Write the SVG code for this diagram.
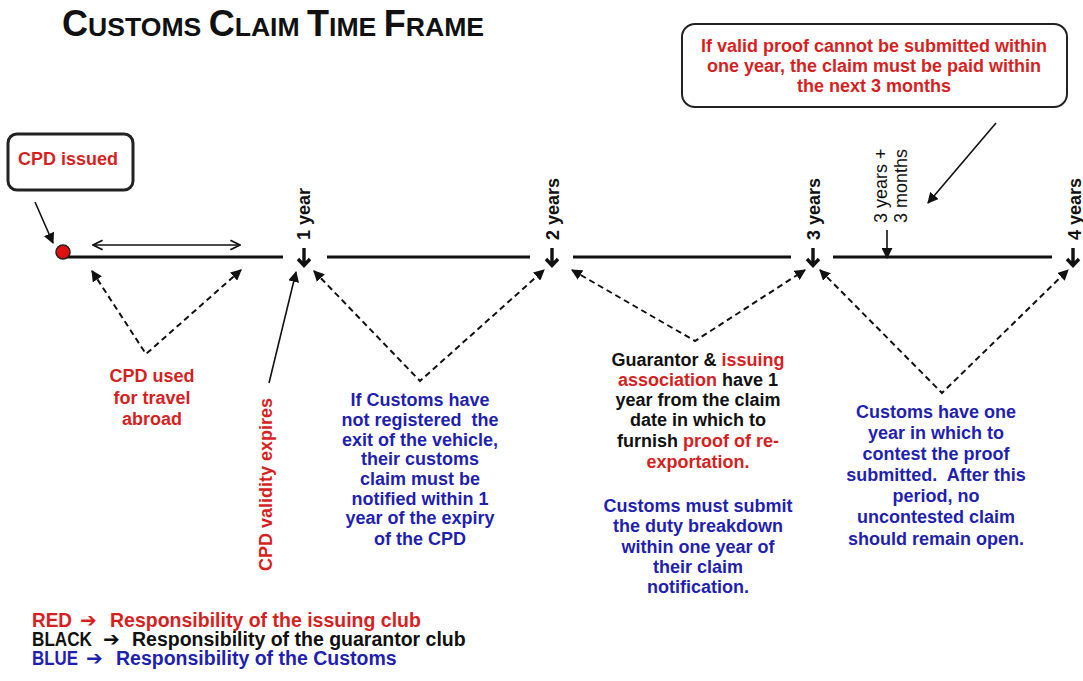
<svg xmlns="http://www.w3.org/2000/svg" width="1083" height="681" viewBox="0 0 1083 681">
  <style>
    .b { font-family: "Liberation Sans", Arial, sans-serif; font-weight: bold; font-size: 18px; }
    .r { font-family: "Liberation Sans", Arial, sans-serif; font-weight: normal; font-size: 18px; }
    .red { fill: #d81f1f; }
    .blue { fill: #1f1fb2; }
    .blk { fill: #111111; }
    .mid { text-anchor: middle; }
    .tl { stroke: #111; stroke-width: 3; fill: none; }
    .dn { stroke: #111; stroke-width: 3.4; fill: none; stroke-linejoin: miter; }
    .dash { stroke: #111; stroke-width: 2; fill: none; stroke-dasharray: 6 4; marker-start: url(#ah); marker-end: url(#ah); }
    .solid { stroke: #111; stroke-width: 1.6; fill: none; marker-end: url(#ah); }
    .box { fill: #fff; stroke: #222; }
    .lg { font-family: "Liberation Sans", Arial, sans-serif; font-weight: bold; font-size: 19.5px; }
    .arr { font-family: "DejaVu Sans", sans-serif; font-weight: bold; font-size: 20px; }
  </style>
  <defs>
    <marker id="ah" viewBox="0 0 10 10" refX="9" refY="5" markerWidth="11" markerHeight="11" markerUnits="userSpaceOnUse" orient="auto-start-reverse">
      <path d="M0,0 L10,5 L0,10 Z" fill="#111" stroke="none"/>
    </marker>
    <marker id="oh" viewBox="0 0 10 10" refX="9" refY="5" markerWidth="12" markerHeight="12" markerUnits="userSpaceOnUse" orient="auto-start-reverse">
      <path d="M1,1 L9,5 L1,9" fill="none" stroke="#111" stroke-width="1.5"/>
    </marker>
  </defs>

  <rect width="1083" height="681" fill="#ffffff"/>

  <g id="title">
    <text x="62" y="36" class="b blk"><tspan font-size="36">C</tspan><tspan font-size="26.6">USTOMS </tspan><tspan font-size="36">C</tspan><tspan font-size="26.6">LAIM </tspan><tspan font-size="36">T</tspan><tspan font-size="26.6">IME </tspan><tspan font-size="36">F</tspan><tspan font-size="26.6">RAME</tspan></text>
  </g>

  <g id="timeline">
    <line x1="63" y1="257" x2="283" y2="257" class="tl"/>
    <line x1="327" y1="257" x2="530" y2="257" class="tl"/>
    <line x1="573" y1="257" x2="791" y2="257" class="tl"/>
    <line x1="833" y1="257" x2="1052" y2="257" class="tl"/>
  </g>

  <g id="marker-1year">
    <path class="dn" d="M304,248 V265 M298,259 L304,265.5 L310,259"/>
    <text class="b blk" font-size="17" transform="translate(310,240) rotate(-90)">1 year</text>
  </g>
  <g id="marker-2years">
    <path class="dn" d="M552,248 V265 M546,259 L552,265.5 L558,259"/>
    <text class="b blk" font-size="17" transform="translate(559,240) rotate(-90)">2 years</text>
  </g>
  <g id="marker-3years">
    <path class="dn" d="M813,248 V265 M807,259 L813,265.5 L819,259"/>
    <text class="b blk" font-size="17" transform="translate(820,240) rotate(-90)">3 years</text>
  </g>
  <g id="marker-4years">
    <path class="dn" d="M1073,248 V265 M1067,259 L1073,265.5 L1079,259"/>
    <text class="b blk" font-size="17" transform="translate(1081,240) rotate(-90)">4 years</text>
  </g>
  <g id="marker-3y3m">
    <text class="r blk" font-size="16" transform="translate(887,223) rotate(-90)">3 years +</text>
    <text class="r blk" font-size="16" transform="translate(907,223) rotate(-90)">3 months</text>
  </g>

  <g id="cpd-issued">
    <rect x="8" y="134" width="125" height="56" rx="9" class="box" stroke-width="3"/>
    <text x="68" y="165" class="b red mid">CPD issued</text>
  </g>
  <g id="start-dot">
    <circle cx="63" cy="252" r="7" fill="#e01010" stroke="#222" stroke-width="1.5"/>
  </g>

  <g id="note-proof">
    <rect x="682" y="24" width="385" height="83" rx="13" class="box" stroke-width="2"/>
    <text x="874" y="52" class="b red mid">If valid proof cannot be submitted within</text>
    <text x="874" y="72" class="b red mid">one year, the claim must be paid within</text>
    <text x="874" y="92" class="b red mid">the next 3 months</text>
  </g>

  <g id="cpd-used">
    <text x="152" y="382" class="b red mid">CPD used</text>
    <text x="152" y="404" class="b red mid">for travel</text>
    <text x="152" y="425" class="b red mid">abroad</text>
  </g>

  <g id="cpd-validity">
    <text x="0" y="0" class="b red" transform="translate(272,571) rotate(-90)">CPD validity expires</text>
  </g>

  <g id="customs-claim">
    <text x="420" y="406" class="b blue mid">If Customs have</text>
    <text x="420" y="426" class="b blue mid" xml:space="preserve">not registered  the</text>
    <text x="420" y="446" class="b blue mid">exit of the vehicle,</text>
    <text x="420" y="465" class="b blue mid">their customs</text>
    <text x="420" y="485" class="b blue mid">claim must be</text>
    <text x="420" y="505" class="b blue mid">notified within 1</text>
    <text x="420" y="524" class="b blue mid">year of the expiry</text>
    <text x="420" y="545" class="b blue mid">of the CPD</text>
  </g>

  <g id="guarantor">
    <text x="698" y="366" class="b blk mid">Guarantor &amp; <tspan class="red">issuing</tspan></text>
    <text x="698" y="386" class="b blk mid"><tspan class="red">association</tspan> have 1</text>
    <text x="698" y="406" class="b blk mid">year from the claim</text>
    <text x="698" y="426" class="b blk mid">date in which to</text>
    <text x="698" y="447" class="b blk mid">furnish <tspan class="red">proof of re-</tspan></text>
    <text x="698" y="468" class="b red mid">exportation.</text>
    <text x="698" y="512" class="b blue mid">Customs must submit</text>
    <text x="698" y="532" class="b blue mid">the duty breakdown</text>
    <text x="698" y="553" class="b blue mid">within one year of</text>
    <text x="698" y="573" class="b blue mid">their claim</text>
    <text x="698" y="593" class="b blue mid">notification.</text>
  </g>

  <g id="contest">
    <text x="936" y="418" class="b blue mid">Customs have one</text>
    <text x="936" y="439" class="b blue mid">year in which to</text>
    <text x="936" y="460" class="b blue mid">contest the proof</text>
    <text x="936" y="481" class="b blue mid" xml:space="preserve">submitted.  After this</text>
    <text x="936" y="502" class="b blue mid">period, no</text>
    <text x="936" y="523" class="b blue mid">uncontested claim</text>
    <text x="936" y="545" class="b blue mid">should remain open.</text>
  </g>

  <g id="legend">
    <text x="32" y="627" class="lg red" textLength="40" lengthAdjust="spacingAndGlyphs">RED</text>
    <text x="80" y="627" class="arr red">➔</text>
    <text x="110" y="627" class="lg red">Responsibility of the issuing club</text>
    <text x="32" y="646" class="lg blk" textLength="60" lengthAdjust="spacingAndGlyphs">BLACK</text>
    <text x="103" y="646" class="arr blk">➔</text>
    <text x="132" y="646" class="lg blk">Responsibility of the guarantor club</text>
    <text x="32" y="665" class="lg blue" textLength="46" lengthAdjust="spacingAndGlyphs">BLUE</text>
    <text x="86" y="665" class="arr blue">➔</text>
    <text x="116" y="665" class="lg blue">Responsibility of the Customs</text>
  </g>

  <g id="connectors">
    <line x1="93" y1="245" x2="240" y2="245" stroke="#111" stroke-width="1.5" marker-start="url(#oh)" marker-end="url(#oh)"/>
    <line x1="35" y1="202" x2="53" y2="243" class="solid"/>
    <line x1="996" y1="123" x2="928" y2="203" class="solid"/>
    <line x1="887" y1="230" x2="887" y2="258" class="solid"/>
    <line x1="269" y1="383" x2="296" y2="272" class="solid"/>
    <polyline points="92,271 146,354 241,270" class="dash"/>
    <polyline points="314,271 420,381 544,270" class="dash"/>
    <polyline points="572,270 695,341 805,270" class="dash"/>
    <polyline points="820,270 942,393 1068,270" class="dash"/>
  </g>
</svg>
